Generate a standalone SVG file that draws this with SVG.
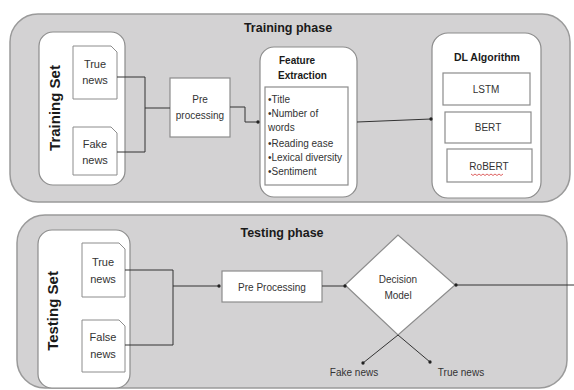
<svg xmlns="http://www.w3.org/2000/svg" width="574" height="390" viewBox="0 0 574 390">
<style>
.panel{fill:#d3d2d3;stroke:#9a9a9a;stroke-width:1.5}
.wbox{fill:#ffffff;stroke:#8c8c8c;stroke-width:1.2}
.doc{fill:#ffffff;stroke:#8c8c8c;stroke-width:1}
.t{font-family:"Liberation Sans",Arial,sans-serif;fill:#333333;font-size:10px}
.n{font-size:11px;text-anchor:middle}
.c{text-anchor:middle}
.b{font-weight:bold;fill:#1a1a1a}
.title{font-size:12.5px}
.side{font-size:15px}
.ln{fill:none;stroke:#333333;stroke-width:1}
</style>
<defs>
<marker id="dot" viewBox="0 0 6 6" refX="3" refY="3" markerWidth="4" markerHeight="4" markerUnits="userSpaceOnUse">
<circle cx="3" cy="3" r="2.5" fill="#222"/>
</marker>
</defs>

<g id="training-phase">
<rect class="panel" x="10" y="14" width="560" height="188" rx="28"/>
<text class="t b c title" x="288" y="32">Training phase</text>
</g>

<g id="testing-phase">
<rect class="panel" x="17" y="215" width="550" height="173" rx="28"/>
<text class="t b c title" x="282" y="237">Testing phase</text>
</g>

<g id="training-set">
<rect class="wbox" x="39" y="32" width="86" height="153" rx="14"/>
<text class="t b side c" transform="translate(60,108) rotate(-90)">Training Set</text>
</g>
<g id="train-true-news">
<path class="doc" d="M73,46 H111 L117,52 V99 H73 Z"/>
<text class="t n" x="95" y="68">True</text>
<text class="t n" x="95" y="84">news</text>
</g>
<g id="train-fake-news">
<path class="doc" d="M73,127 H111 L117,133 V175 H73 Z"/>
<text class="t n" x="95" y="148">Fake</text>
<text class="t n" x="95" y="164">news</text>
</g>
<g id="pre-processing">
<rect class="wbox" x="170" y="78" width="60" height="59"/>
<text class="t c" x="200" y="103">Pre</text>
<text class="t c" x="200" y="119">processing</text>
</g>
<g id="feature-extraction">
<rect class="wbox" x="260" y="47" width="97" height="150" rx="14"/>
<text class="t b" x="279" y="64">Feature</text>
<text class="t b" x="278" y="79">Extraction</text>
<rect class="wbox" x="265" y="87" width="83" height="98"/>
<text class="t" x="268" y="103">•Title</text>
<text class="t" x="268" y="117">•Number of</text>
<text class="t" x="268" y="131">words</text>
<text class="t" x="268" y="147">•Reading ease</text>
<text class="t" x="268" y="161">•Lexical diversity</text>
<text class="t" x="268" y="175">•Sentiment</text>
</g>
<g id="dl-algorithm">
<rect class="wbox" x="432" y="33" width="109" height="165" rx="16"/>
<text class="t b c" x="487" y="61" style="font-size:10.5px">DL Algorithm</text>
</g>
<g id="lstm">
<rect class="wbox" x="443" y="73" width="87" height="32"/>
<text class="t c" x="486" y="93">LSTM</text>
</g>
<g id="bert">
<rect class="wbox" x="445" y="112" width="86" height="31"/>
<text class="t c" x="488" y="131">BERT</text>
</g>
<g id="robert">
<rect class="wbox" x="447" y="149" width="85" height="33"/>
<text class="t c" x="489" y="170">RoBERT</text>
<path d="M471,174 l2,1.5 l2,-1.5 l2,1.5 l2,-1.5 l2,1.5 l2,-1.5 l2,1.5 l2,-1.5 l2,1.5 l2,-1.5 l2,1.5 l2,-1.5 l2,1.5 l2,-1.5 l2,1.5 l2,-1.5" fill="none" stroke="#d02020" stroke-width="0.7"/>
</g>

<g id="testing-set">
<rect class="wbox" x="38" y="230" width="92" height="158" rx="14"/>
<text class="t b side c" transform="translate(58,311) rotate(-90)">Testing Set</text>
</g>
<g id="test-true-news">
<path class="doc" d="M82,243 H119 L125,249 V297 H82 Z"/>
<text class="t n" x="103" y="266">True</text>
<text class="t n" x="103" y="283">news</text>
</g>
<g id="test-false-news">
<path class="doc" d="M82,320 H119 L125,326 V372 H82 Z"/>
<text class="t n" x="103" y="341">False</text>
<text class="t n" x="103" y="358">news</text>
</g>
<g id="pre-processing-test">
<rect class="wbox" x="222" y="271" width="100" height="31"/>
<text class="t c" x="272" y="291">Pre Processing</text>
</g>
<g id="decision-model">
<path class="wbox" d="M345,285 L398,235 L455,285 L398,335 Z"/>
<text class="t c" x="398" y="283">Decision</text>
<text class="t c" x="398" y="299">Model</text>
</g>
<g id="fake-news-out">
<text class="t c" x="354" y="376">Fake news</text>
</g>
<g id="true-news-out">
<text class="t c" x="461" y="376">True news</text>
</g>

<g id="connectors">
<path class="ln" d="M117,77 H145 V152 H117"/>
<path class="ln" d="M145,108 H170"/>
<path class="ln" d="M230,107 H245 V122 H258" marker-end="url(#dot)"/>
<path class="ln" d="M357,122 L431,119" marker-end="url(#dot)"/>
<path class="ln" d="M125,270 H173 V345 H125"/>
<path class="ln" d="M173,286 H219" marker-end="url(#dot)"/>
<path class="ln" d="M322,286 H345" marker-end="url(#dot)"/>
<path class="ln" d="M574,285 H456" marker-end="url(#dot)"/>
<path class="ln" d="M398,335 L363,363" marker-end="url(#dot)"/>
<path class="ln" d="M398,335 L430,362" marker-end="url(#dot)"/>
</g>
</svg>
